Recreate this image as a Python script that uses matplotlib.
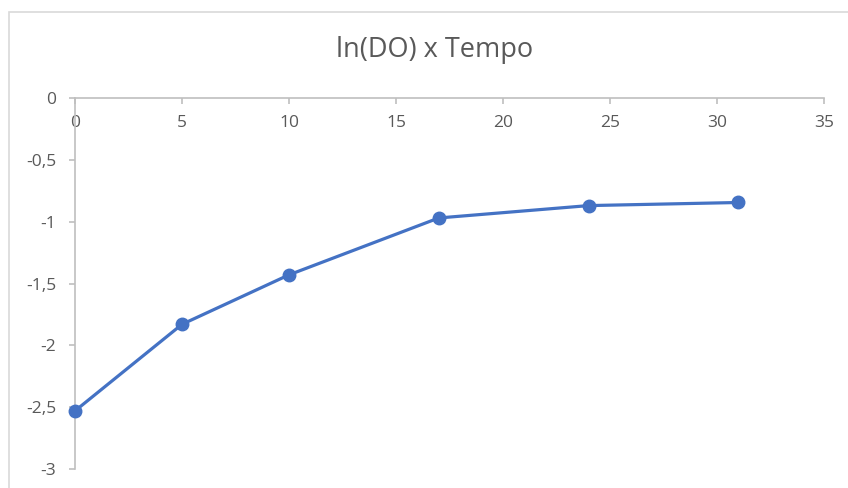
import matplotlib.pyplot as plt
from matplotlib.patches import Rectangle
from matplotlib.ticker import FuncFormatter

# data
tempo = [0, 5, 10, 17, 24, 31]
ln_do = [-2.53, -1.83, -1.43, -0.97, -0.87, -0.845]
x_ticks = [0, 5, 10, 15, 20, 25, 30, 35]
y_ticks = [0, -0.5, -1, -1.5, -2, -2.5, -3]

plt.rcParams['font.family'] = ['Open Sans', 'DejaVu Sans']

fig = plt.figure(figsize=(8.48, 4.88), dpi=100)

# outer chart border (runs off right/bottom edge)
fig.patches.append(Rectangle((9 / 848, -0.1), 1.2, 1 - 12 / 488 + 0.1,
                             transform=fig.transFigure, fill=False,
                             edgecolor='#d9d9d9', linewidth=1.2))

ax = fig.add_axes([75 / 848, 1 - 469 / 488, 749 / 848, 371 / 488])
ax.patch.set_alpha(0)

ax.plot(tempo, ln_do, color='#4472C4', linewidth=2.3, marker='o',
        markersize=9, zorder=3, clip_on=False)

ax.set_xlim(0, 35)
ax.set_ylim(-3, 0)
ax.set_xticks(x_ticks)
ax.set_yticks(y_ticks)

fmt = FuncFormatter(lambda v, p: ('%g' % v).replace('.', ','))
ax.xaxis.set_major_formatter(fmt)
ax.yaxis.set_major_formatter(fmt)

ax.spines['bottom'].set_position(('data', 0))
ax.spines['top'].set_visible(False)
ax.spines['right'].set_visible(False)
for s in ('bottom', 'left'):
    ax.spines[s].set_color('#bfbfbf')
    ax.spines[s].set_linewidth(1.2)

ax.tick_params(axis='both', colors='#bfbfbf', labelcolor='#595959',
               labelsize=12.5, length=4.5, width=1.2, direction='out')
ax.tick_params(axis='x', pad=8)
ax.tick_params(axis='y', pad=9)

fig.text(435 / 848, 1 - 50 / 488, 'ln(DO) x Tempo', ha='center', va='center',
         fontsize=19.5, color='#595959')

fig.savefig('out.png', dpi=100)
